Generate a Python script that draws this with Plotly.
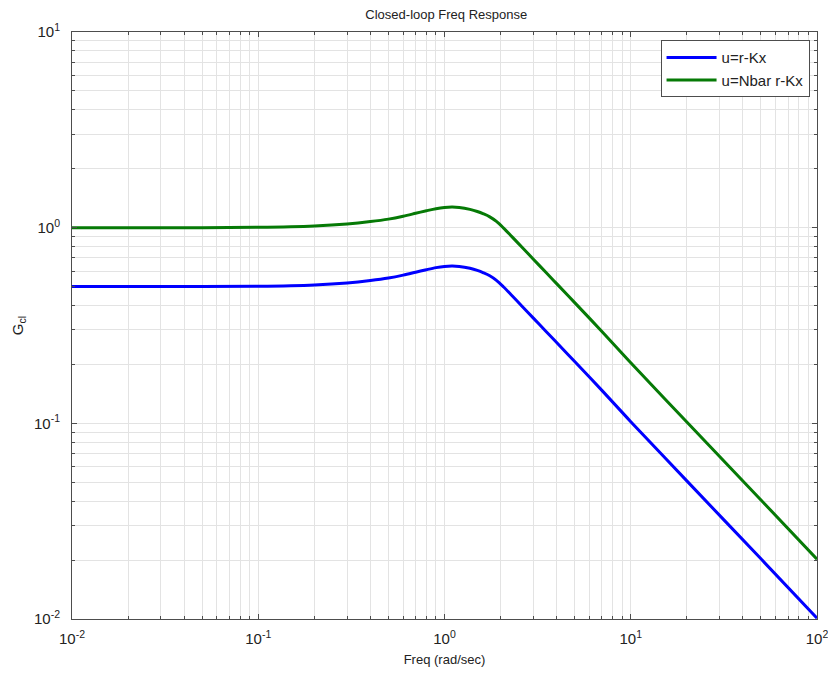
import plotly.graph_objects as go

# Data (frequency in rad/sec, closed-loop gain)
freq = [0.01, 0.05, 0.1, 0.2, 0.3, 0.4, 0.5, 0.6, 0.7, 0.8, 0.9, 1.0, 1.1, 1.2,
        1.37, 1.5, 1.62, 1.75, 1.9, 2.07, 2.3, 2.6, 3.0, 3.5, 4.0, 5.0, 7.0,
        10, 20, 50, 100]
gain_rkx = [0.500, 0.500, 0.502, 0.510, 0.522, 0.537, 0.553, 0.572, 0.592, 0.610,
            0.625, 0.634, 0.637, 0.634, 0.620, 0.605, 0.588, 0.568, 0.538, 0.499,
            0.450, 0.398, 0.345, 0.2957, 0.2588, 0.207, 0.1474, 0.102, 0.0508,
            0.0203, 0.0101]
gain_nbar = [1.000, 1.000, 1.004, 1.020, 1.044, 1.074, 1.106, 1.144, 1.184, 1.220,
             1.250, 1.268, 1.274, 1.268, 1.240, 1.210, 1.176, 1.136, 1.076, 0.998,
             0.900, 0.796, 0.690, 0.5914, 0.5176, 0.414, 0.2948, 0.204, 0.1016,
             0.0406, 0.0202]

series_names = ["u=r-Kx", "u=Nbar r-Kx"]
series_colors = ["#0000ff", "#067a06"]

x_decades = [-2, -1, 0, 1, 2]
y_decades = [-2, -1, 0, 1]


def decade_text(e):
    return "10<sup>%d</sup>" % e


def minor_vals(decs):
    vals = []
    for e in decs[:-1]:
        for m in range(2, 10):
            vals.append(m * 10.0 ** e)
    return vals


fig = go.Figure()
for ys, name, col in zip([gain_rkx, gain_nbar], series_names, series_colors):
    fig.add_trace(go.Scatter(x=freq, y=ys, mode="lines", name=name,
                             line=dict(color=col, width=3, shape="spline",
                                       smoothing=0.9)))

font = "Liberation Sans, Arial, sans-serif"
grid_col = "#e3e3e3"
axis_common = dict(
    type="log",
    automargin=False,
    showline=True, linecolor="#4d4d4d", linewidth=1, mirror="allticks",
    ticks="inside", ticklen=5, tickcolor="#4d4d4d",
    showgrid=True, gridcolor=grid_col, gridwidth=1,
    zeroline=False,
    ticklabeloverflow="allow",
    tickfont=dict(family=font, size=15, color="#222"),
)

fig.update_layout(
    width=828, height=673,
    margin=dict(l=72, r=11, t=32, b=54),
    paper_bgcolor="white", plot_bgcolor="white",
    font=dict(family=font, color="#222"),
    title=dict(text="Closed-loop Freq Response", x=0.539, xanchor="center",
               y=0.978, yanchor="middle", font=dict(size=13, color="#222")),
    xaxis=dict(
        **axis_common,
        range=[-2, 2],
        tickmode="array",
        tickvals=[10.0 ** e for e in x_decades],
        ticktext=[decade_text(e) for e in x_decades],
        ticklabelstandoff=6,
        minor=dict(tickmode="array", tickvals=minor_vals(x_decades),
                   ticks="inside", ticklen=3, tickcolor="#4d4d4d",
                   showgrid=True, gridcolor=grid_col, gridwidth=1),
        title=dict(text="Freq (rad/sec)", font=dict(size=13), standoff=8),
    ),
    yaxis=dict(
        **axis_common,
        range=[-2, 1],
        tickmode="array",
        tickvals=[10.0 ** e for e in y_decades],
        ticktext=[decade_text(e) for e in y_decades],
        ticklabelstandoff=8,
        minor=dict(tickmode="array", tickvals=minor_vals(y_decades),
                   ticks="inside", ticklen=3, tickcolor="#4d4d4d",
                   showgrid=True, gridcolor=grid_col, gridwidth=1),
        title=dict(text="G<sub>cl</sub>", font=dict(size=15), standoff=6),
    ),
    legend=dict(
        x=0.990, y=0.986, xanchor="right", yanchor="top",
        bgcolor="white", bordercolor="#4d4d4d", borderwidth=1,
        font=dict(family=font, size=15, color="#222"),
        tracegroupgap=0, itemwidth=50,
    ),
    showlegend=True,
)

fig.write_html("out.html")
